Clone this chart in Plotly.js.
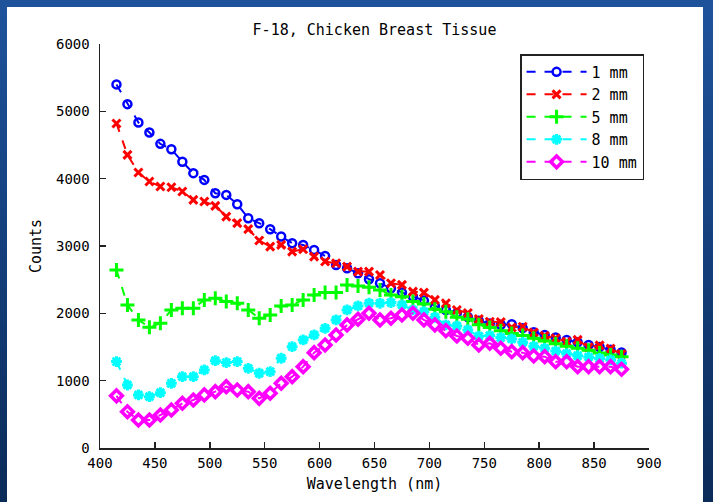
<!DOCTYPE html>
<html>
<head>
<meta charset="utf-8">
<script src="https://cdn.plot.ly/plotly-3.0.1.min.js"></script>
<style>
  html, body { margin: 0; padding: 0; width: 713px; height: 502px; overflow: hidden;
    background: linear-gradient(to bottom, #1e539c 0%, #143f7c 50%, #0b2b58 100%); }
  #plot { position: absolute; left: 7px; top: 7px; width: 696px; height: 495px; background: #fff; }
</style>
</head>
<body>
<div id="plot"></div>
<script>
// Wavelength (nm), 415..875 every 10 nm
const wavelength = [415,425,435,445,455,465,475,485,495,505,515,525,535,545,555,565,
  575,585,595,605,615,625,635,645,655,665,675,685,695,705,715,725,735,745,755,765,
  775,785,795,805,815,825,835,845,855,865,875];

const counts_1mm = [5400,5107,4834,4685,4517,4438,4250,4082,3982,3784,3759,3621,3413,3339,3250,3140,
  3042,3016,2942,2853,2719,2670,2596,2507,2447,2373,2308,2248,2189,2110,2050,2001,
  1945,1890,1850,1830,1838,1780,1720,1680,1640,1605,1570,1530,1500,1460,1420];

const counts_2mm = [4820,4354,4091,3957,3883,3873,3809,3685,3660,3596,3437,3339,3250,3081,2991,3016,
  2917,2952,2843,2769,2744,2694,2620,2620,2570,2447,2422,2323,2308,2199,2150,2050,
  2005,1915,1875,1870,1790,1800,1715,1665,1630,1580,1605,1495,1525,1475,1395];

const counts_5mm = [2645,2125,1902,1793,1853,2050,2075,2075,2199,2224,2174,2150,2050,1927,1976,2110,
  2125,2199,2273,2308,2308,2422,2407,2388,2348,2273,2248,2174,2140,2061,2025,1942,
  1912,1830,1790,1740,1700,1670,1630,1590,1550,1510,1480,1450,1410,1380,1357];

const counts_8mm = [1283,936,788,762,822,961,1059,1059,1159,1297,1268,1283,1184,1110,1134,1333,
  1505,1605,1679,1778,1902,2050,2110,2150,2150,2160,2125,2050,2025,1942,1828,1813,
  1753,1660,1670,1640,1620,1570,1510,1480,1440,1400,1370,1350,1330,1310,1260];

const counts_10mm = [775,539,416,416,490,565,664,713,788,837,911,862,837,738,813,961,
  1059,1208,1416,1530,1679,1828,1912,2001,1902,1927,1976,2001,1902,1828,1743,1664,
  1630,1530,1555,1481,1431,1416,1367,1357,1282,1282,1208,1208,1208,1208,1169];

const seriesNames = ['1 mm','2 mm','5 mm','8 mm','10 mm'];
const seriesData = [counts_1mm, counts_2mm, counts_5mm, counts_8mm, counts_10mm];
const seriesColors = ['#0000ff','#ff0000','#00ff00','#00ffff','#ff00ff'];
const seriesSymbols = ['circle-open','x-thin-open','cross-thin-open','asterisk-open','diamond-open'];
const seriesSizes = [8,8,10,9,9];
const seriesMarkerWidths = [2.5,3,3,3,3.5];

const traces = seriesData.map((y, i) => ({
  x: wavelength,
  y: y,
  name: seriesNames[i],
  type: 'scatter',
  mode: 'lines+markers',
  line: { color: seriesColors[i], width: 2, dash: 'dash' },
  marker: { symbol: seriesSymbols[i], size: seriesSizes[i], color: seriesColors[i],
            line: { color: seriesColors[i], width: seriesMarkerWidths[i] } }
}));

const font = 'DejaVu Sans Mono, monospace';

const layout = {
  width: 696, height: 495,
  paper_bgcolor: '#ffffff',
  plot_bgcolor: '#ffffff',
  margin: { l: 93, r: 54, t: 37, b: 54 },
  font: { family: font, size: 14, color: '#000' },
  title: { text: 'F-18, Chicken Breast Tissue', x: 0.5, xref: 'paper', y: 0.955, yref: 'container',
           xanchor: 'center', yanchor: 'middle', font: { family: font, size: 15, color: '#000' } },
  xaxis: {
    range: [400, 900], dtick: 50, tick0: 400,
    showgrid: false, zeroline: false, showline: true, linecolor: '#222', linewidth: 1.5,
    ticks: 'inside', ticklen: 6, tickcolor: '#222', tickwidth: 1.5,
    tickfont: { family: font, size: 14, color: '#000' },
    ticklabelstandoff: 2,
    title: { text: 'Wavelength (nm)', font: { family: font, size: 15, color: '#000' }, standoff: 8 }
  },
  yaxis: {
    range: [0, 6000], dtick: 1000, tick0: 0,
    showgrid: false, zeroline: false, showline: true, linecolor: '#222', linewidth: 1.5,
    ticks: 'inside', ticklen: 6, tickcolor: '#222', tickwidth: 1.5,
    tickfont: { family: font, size: 14, color: '#000' },
    ticklabelstandoff: 6,
    title: { text: 'Counts', font: { family: font, size: 15, color: '#000' }, standoff: 10 }
  },
  legend: {
    x: 0.991, y: 0.975, xanchor: 'right', yanchor: 'top',
    bgcolor: '#ffffff', bordercolor: '#222', borderwidth: 1.5,
    font: { family: font, size: 15, color: '#000' },
    itemwidth: 60
  },
  showlegend: true
};

Plotly.newPlot('plot', traces, layout, { displayModeBar: false, staticPlot: true });
</script>
</body>
</html>
